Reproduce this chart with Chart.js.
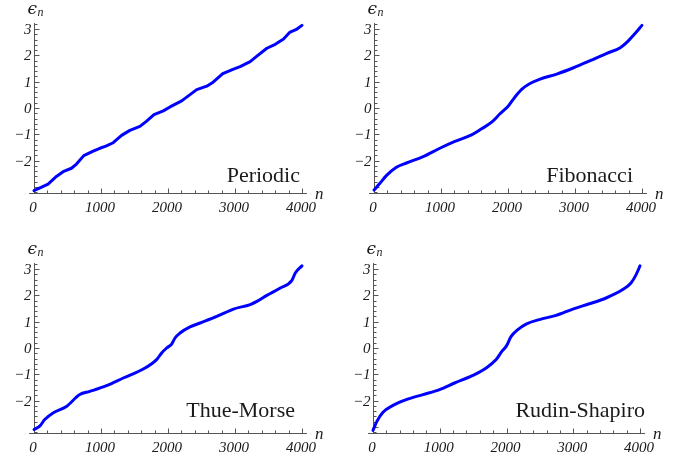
<!DOCTYPE html>
<html>
<head>
<meta charset="utf-8">
<script src="https://cdn.jsdelivr.net/npm/chart.js@4.4.0/dist/chart.umd.min.js"></script>
<style>
  body { margin: 0; background: #fff; }
  #wrap { position: relative; width: 685px; height: 457px; overflow: hidden; }
  #wrap canvas { position: absolute; }
</style>
</head>
<body>
<div id="wrap">
  <canvas id="periodic" width="342" height="228" style="left:0px;top:0px"></canvas>
  <canvas id="fibonacci" width="343" height="228" style="left:342px;top:0px"></canvas>
  <canvas id="thueMorse" width="342" height="229" style="left:0px;top:228px"></canvas>
  <canvas id="rudinShapiro" width="343" height="229" style="left:342px;top:228px"></canvas>
</div>
<script>
// energy eps_n against level index n, one sequence per panel
const periodicN   = [0, 210, 334, 434, 559, 634, 743, 883, 983, 1072, 1182, 1307, 1431, 1581, 1681, 1791, 1930, 2030, 2204, 2329, 2429, 2579, 2678, 2818, 2978, 3077, 3227, 3327, 3476, 3601, 3725, 3815, 3925, 4000];
const periodicEps = [-3.14, -2.89, -2.60, -2.42, -2.29, -2.13, -1.81, -1.64, -1.53, -1.45, -1.32, -1.04, -0.85, -0.70, -0.50, -0.25, -0.11, 0.04, 0.27, 0.51, 0.70, 0.83, 0.99, 1.31, 1.48, 1.57, 1.76, 1.97, 2.27, 2.42, 2.62, 2.87, 3.00, 3.14];

const fibonacciN   = [0, 85, 184, 334, 484, 733, 983, 1207, 1456, 1606, 1756, 1880, 2005, 2105, 2204, 2329, 2479, 2728, 2978, 3227, 3476, 3676, 3800, 3900, 4000];
const fibonacciEps = [-3.12, -2.87, -2.57, -2.25, -2.09, -1.85, -1.53, -1.27, -1.02, -0.79, -0.54, -0.22, 0.08, 0.42, 0.71, 0.93, 1.10, 1.29, 1.53, 1.80, 2.08, 2.29, 2.56, 2.84, 3.14];

const thueMorseN   = [0, 85, 160, 284, 484, 683, 833, 1082, 1332, 1631, 1830, 1905, 1980, 2055, 2105, 2180, 2329, 2479, 2728, 2978, 3227, 3327, 3476, 3676, 3850, 3900, 4000];
const thueMorseEps = [-3.10, -2.97, -2.72, -2.47, -2.22, -1.77, -1.65, -1.43, -1.14, -0.80, -0.44, -0.19, 0.00, 0.15, 0.38, 0.57, 0.80, 0.95, 1.20, 1.48, 1.65, 1.77, 2.00, 2.28, 2.57, 2.85, 3.12];

const rudinShapiroN   = [0, 60, 150, 299, 499, 748, 998, 1222, 1496, 1696, 1845, 1930, 1995, 2070, 2170, 2294, 2494, 2743, 2993, 3242, 3491, 3741, 3865, 3940, 4000];
const rudinShapiroEps = [-3.13, -2.78, -2.44, -2.18, -1.96, -1.77, -1.58, -1.33, -1.04, -0.76, -0.44, -0.13, 0.06, 0.44, 0.70, 0.91, 1.08, 1.24, 1.48, 1.68, 1.90, 2.22, 2.47, 2.78, 3.12];

const xTicks = [0, 1000, 2000, 3000, 4000];
const yTicks = [-2, -1, 0, 1, 2, 3];

// the periodic spectrum is piecewise straight, the others are smooth
const panels = [
  { id: 'periodic',     name: 'Periodic',      n: periodicN,     eps: periodicEps,     smooth: false, pad: { left: 29, right: 35, top: 23, bottom: 35 }, nameX: 300, nameY: 182 },
  { id: 'fibonacci',    name: 'Fibonacci',     n: fibonacciN,    eps: fibonacciEps,    smooth: true,  pad: { left: 27, right: 38, top: 23, bottom: 35 }, nameX: 291, nameY: 182 },
  { id: 'thueMorse',    name: 'Thue-Morse',    n: thueMorseN,    eps: thueMorseEps,    smooth: true,  pad: { left: 29, right: 35, top: 35, bottom: 24 }, nameX: 295, nameY: 189 },
  { id: 'rudinShapiro', name: 'Rudin-Shapiro', n: rudinShapiroN, eps: rudinShapiroEps, smooth: true,  pad: { left: 26, right: 40, top: 35, bottom: 24 }, nameX: 303, nameY: 189 }
];

const axisColor = '#555';
const textColor = '#1a1a1a';
const tickFont = 'italic 15px "Liberation Serif", "DejaVu Serif", serif';

// axes drawn the Mathematica way: y axis through n = 0, x axis along the bottom, ticks pointing inward
const mathAxes = {
  id: 'mathAxes',
  beforeDatasetsDraw(chart) {
    const ctx = chart.ctx;
    const xs = chart.scales.x, ys = chart.scales.y;
    const x0 = Math.round(xs.getPixelForValue(0)) + 0.5;
    const yb = Math.round(ys.getPixelForValue(ys.min)) + 0.5;
    ctx.save();
    ctx.strokeStyle = axisColor;
    ctx.lineWidth = 1;
    ctx.beginPath();
    ctx.moveTo(xs.left, yb);
    ctx.lineTo(xs.right, yb);
    ctx.moveTo(x0, ys.top);
    ctx.lineTo(x0, yb);
    // x ticks: major every 1000, minor every 200
    for (let v = 0; v <= 4000; v += 200) {
      const px = Math.round(xs.getPixelForValue(v)) + 0.5;
      const len = v % 1000 === 0 ? 5 : 3;
      ctx.moveTo(px, yb);
      ctx.lineTo(px, yb - len);
    }
    // y ticks: major every 1, minor every 0.2
    for (let k = -16; k <= 16; k++) {
      const v = k / 5;
      const py = Math.round(ys.getPixelForValue(v)) + 0.5;
      const len = k % 5 === 0 ? 5 : 3;
      ctx.moveTo(x0, py);
      ctx.lineTo(x0 + len, py);
    }
    ctx.stroke();

    ctx.fillStyle = textColor;
    ctx.font = tickFont;
    ctx.textAlign = 'center';
    ctx.textBaseline = 'alphabetic';
    xTicks.forEach(v => {
      ctx.fillText(String(v), xs.getPixelForValue(v) - 1, yb + 18);
    });
    ctx.textAlign = 'right';
    ctx.textBaseline = 'middle';
    yTicks.forEach(v => {
      const label = v < 0 ? '\u2212' + Math.abs(v) : String(v);
      ctx.fillText(label, x0 - 3, ys.getPixelForValue(v) + 1);
    });

    // axis labels
    ctx.textAlign = 'left';
    ctx.textBaseline = 'alphabetic';
    ctx.font = 'italic 17px "DejaVu Serif", serif';
    ctx.fillText('\u03f5', x0 - 7, ys.top - 9);
    ctx.font = 'italic 12px "Liberation Serif", serif';
    ctx.fillText('n', x0 + 3, ys.top - 7);
    ctx.font = 'italic 17px "Liberation Serif", serif';
    ctx.fillText('n', xs.right + 8, yb + 5);
    ctx.restore();
  },
  afterDatasetsDraw(chart, args, opts) {
    const ctx = chart.ctx;
    ctx.save();
    ctx.fillStyle = textColor;
    ctx.font = '22px "Liberation Serif", "Times New Roman", serif';
    ctx.textAlign = 'right';
    ctx.textBaseline = 'alphabetic';
    ctx.fillText(opts.name, opts.x, opts.y);
    ctx.restore();
  }
};

panels.forEach(p => {
  new Chart(document.getElementById(p.id), {
    type: 'line',
    data: {
      datasets: [{
        data: p.n.map((n, i) => ({ x: n, y: p.eps[i] })),
        borderColor: '#0000ff',
        borderWidth: 3,
        pointRadius: 0,
        cubicInterpolationMode: p.smooth ? 'monotone' : 'default',
        tension: 0,
        borderCapStyle: 'round',
        borderJoinStyle: 'round',
        fill: false
      }]
    },
    options: {
      responsive: false,
      animation: false,
      layout: { padding: p.pad },
      plugins: {
        legend: { display: false },
        tooltip: { enabled: false },
        mathAxes: { name: p.name, x: p.nameX, y: p.nameY }
      },
      scales: {
        x: { type: 'linear', min: -75, max: 4075, display: false },
        y: { type: 'linear', min: -3.23, max: 3.23, display: false }
      }
    },
    plugins: [mathAxes]
  });
});
</script>
</body>
</html>
